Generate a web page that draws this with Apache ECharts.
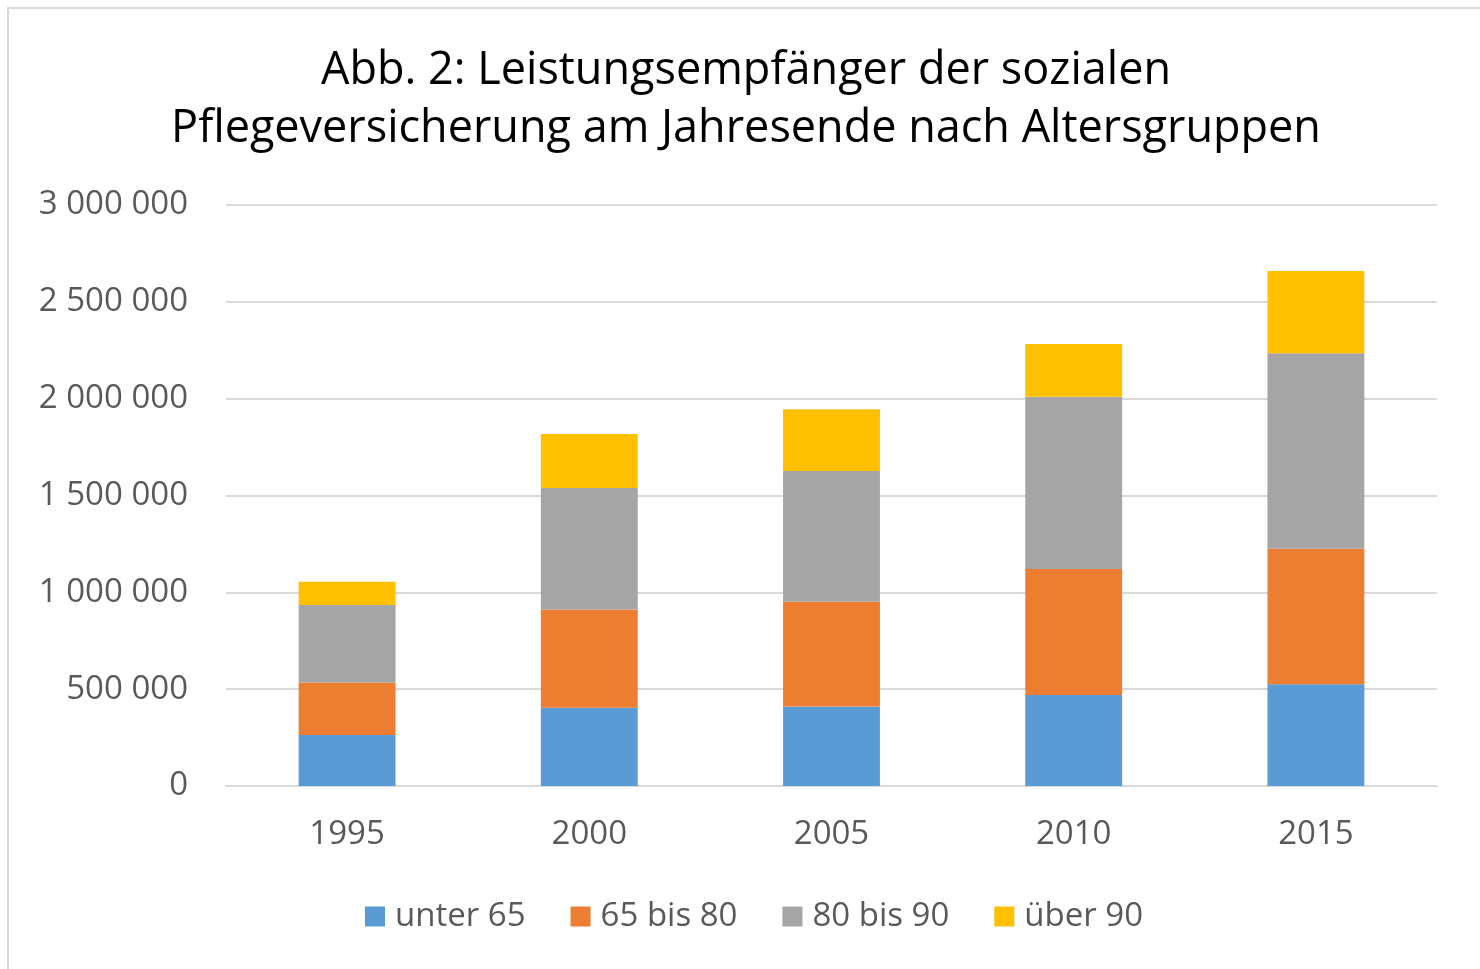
<!DOCTYPE html>
<html>
<head>
<meta charset="utf-8">
<script src="https://cdn.jsdelivr.net/npm/echarts@6/dist/echarts.min.js"></script>
<style>
	html, body { margin: 0; padding: 0; background: #fff; overflow: hidden; }
	#frame { position: absolute; left: 7px; top: 7px; width: 1490px; height: 980px; border: 2px solid #d9d9d9; box-sizing: border-box; }
	#chart { position: absolute; left: 0; top: 0; width: 1480px; height: 969px; }
</style>
</head>
<body>
<div id="frame"></div>
<div id="chart"></div>
<script>
// Jahre und Altersgruppen
const years = ['1995', '2000', '2005', '2010', '2015']
const seriesNames = ['unter 65', '65 bis 80', '80 bis 90', 'über 90']
const unter65 = [263000, 404000, 410000, 470000, 525000]
const bis80 = [272000, 508000, 542000, 651000, 700000]
const bis90 = [400000, 627000, 675000, 889000, 1009000]
const ueber90 = [120000, 279000, 318000, 272000, 425000]
const colors = ['#5b9bd5', '#ed7d31', '#a5a5a5', '#ffc000']

const font = '"Open Sans", sans-serif'

function fmt(v) {
	return String(v).replace(/\B(?=(\d{3})+(?!\d))/g, ' ')
}

const chart = echarts.init(document.getElementById('chart'))

const data = [unter65, bis80, bis90, ueber90]
const series = seriesNames.map((name, i) => ({
	name: name,
	type: 'bar',
	stack: 'total',
	barWidth: '40%',
	itemStyle: { color: colors[i] },
	data: data[i]
}))

chart.setOption({
	animation: false,
	title: {
		text: 'Abb. 2: Leistungsempfänger der sozialen\nPflegeversicherung am Jahresende nach Altersgruppen',
		left: 741,
		textAlign: 'center',
		top: 37,
		textStyle: {
			fontFamily: font,
			fontSize: 45,
			fontWeight: 'normal',
			color: '#000',
			lineHeight: 58
		}
	},
	grid: {
		left: 226,
		right: 43,
		top: 205,
		bottom: 183
	},
	legend: {
		bottom: 31,
		left: 360,
		itemWidth: 20,
		itemHeight: 20,
		itemGap: 45,
		icon: 'rect',
		textStyle: { fontFamily: font, fontSize: 33, color: '#595959', padding: [0, 0, 0, 5] },
		data: seriesNames
	},
	xAxis: {
		type: 'category',
		data: years,
		axisTick: { show: false },
		axisLine: { lineStyle: { color: '#d9d9d9', width: 2 } },
		axisLabel: { fontFamily: font, fontSize: 33, color: '#595959', margin: 32 }
	},
	yAxis: {
		type: 'value',
		min: 0,
		max: 3000000,
		interval: 500000,
		axisLabel: {
			fontFamily: font,
			fontSize: 33,
			color: '#595959',
			margin: 38,
			formatter: fmt
		},
		splitLine: { lineStyle: { color: '#d9d9d9', width: 2 } }
	},
	series: series
})
</script>
</body>
</html>
